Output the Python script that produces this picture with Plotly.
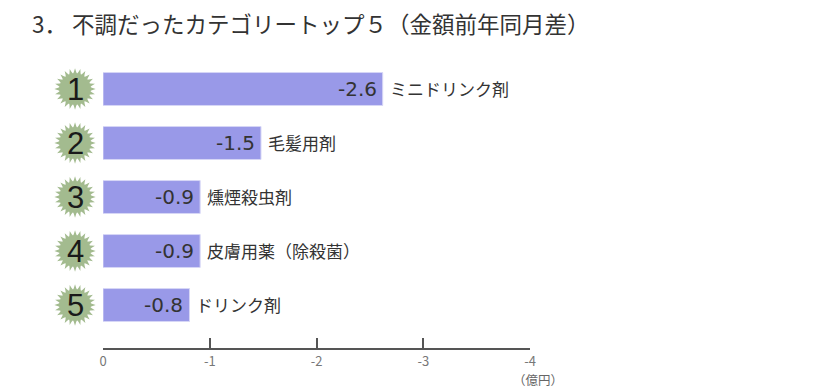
import plotly.graph_objects as go

FONT = "Noto Sans CJK JP"
title = "3． 不調だったカテゴリートップ５（金額前年同月差）"
ranks = ["1", "2", "3", "4", "5"]
categories = ["ミニドリンク剤", "毛髪用剤", "燻煙殺虫剤", "皮膚用薬（除殺菌）", "ドリンク剤"]
bar_values = [-2.62, -1.48, -0.91, -0.91, -0.81]
value_labels = ["-2.6", "-1.5", "-0.9", "-0.9", "-0.8"]
tick_values = [0, -1, -2, -3, -4]
tick_labels = ["0", "-1", "-2", "-3", "-4"]
unit = "（億円）"
badge_x = [0.556] * 5
burst_angles = [0, 15, 30, 45, 60, 75]

fig = go.Figure()

fig.add_bar(
    x=bar_values, y=ranks, orientation="h", width=0.61,
    marker=dict(color="#9999e8", line=dict(color="#d6d6f6", width=1)),
    hoverinfo="skip",
)

for a in burst_angles:
    fig.add_scatter(
        x=badge_x, y=ranks, xaxis="x2", yaxis="y", mode="markers", hoverinfo="skip",
        marker=dict(symbol="star-diamond", size=29.5, angle=a, color="#a3bb8f", line=dict(width=0)),
    )
fig.add_scatter(
    x=badge_x, y=ranks, xaxis="x2", yaxis="y", mode="markers", hoverinfo="skip",
    marker=dict(symbol="circle", size=31, color="#a3bb8f", line=dict(width=0)),
)

annotations = []
for i, (v, c, lab, r, bx) in enumerate(zip(bar_values, categories, value_labels, ranks, badge_x)):
    annotations.append(dict(x=bx, y=i, xref="x2", yref="y", text=r, showarrow=False,
                            xanchor="center",
                            font=dict(family="Liberation Sans", size=31, color="#1a1a1a")))
    annotations.append(dict(x=v, y=i, xref="x", yref="y", text=c, showarrow=False,
                            xanchor="left", xshift=5, yshift=1,
                            font=dict(family=FONT, size=17, color="#333333")))
    annotations.append(dict(x=v, y=i, xref="x", yref="y", text=lab, showarrow=False,
                            xanchor="right", xshift=-4,
                            font=dict(family="DejaVu Sans", size=20, color="#333333")))
annotations.append(dict(
    x=-0.02, y=1.137, xanchor="left", yanchor="middle", showarrow=False,
    xref="paper", yref="paper", text=title,
    font=dict(family=FONT, size=22.5, color="#333333"),
))
annotations.append(dict(
    x=-4, y=0, xref="x", yref="paper", text=unit, showarrow=False,
    xanchor="center", yanchor="top", xshift=8, yshift=-20,
    font=dict(family=FONT, size=12.5, color="#666666"),
))

fig.update_layout(
    width=829, height=390, margin=dict(l=40, r=299, t=62, b=42, pad=0, autoexpand=False),
    paper_bgcolor="white", plot_bgcolor="white", showlegend=False, barmode="overlay",
    annotations=annotations,
    xaxis=dict(domain=[63 / 490, 1], range=[0, -4], tickvals=tick_values, ticktext=tick_labels,
               ticks="inside", ticklen=10, tickwidth=1.5, tickcolor="#555555",
               showline=True, linecolor="#555555", linewidth=1.5,
               showgrid=False, zeroline=False, ticklabelstandoff=1,
               tickfont=dict(family=FONT, size=13, color="#777777")),
    xaxis2=dict(domain=[0, 63 / 490], range=[0, 1], visible=False, anchor="y"),
    yaxis=dict(type="category", categoryorder="array", categoryarray=ranks, range=[4.796, -0.5],
               showticklabels=False, showgrid=False, zeroline=False, showline=False, ticks=""),
)
fig.write_html("out.html", config={"displayModeBar": False},
               post_script="document.body.style.margin='0';")
